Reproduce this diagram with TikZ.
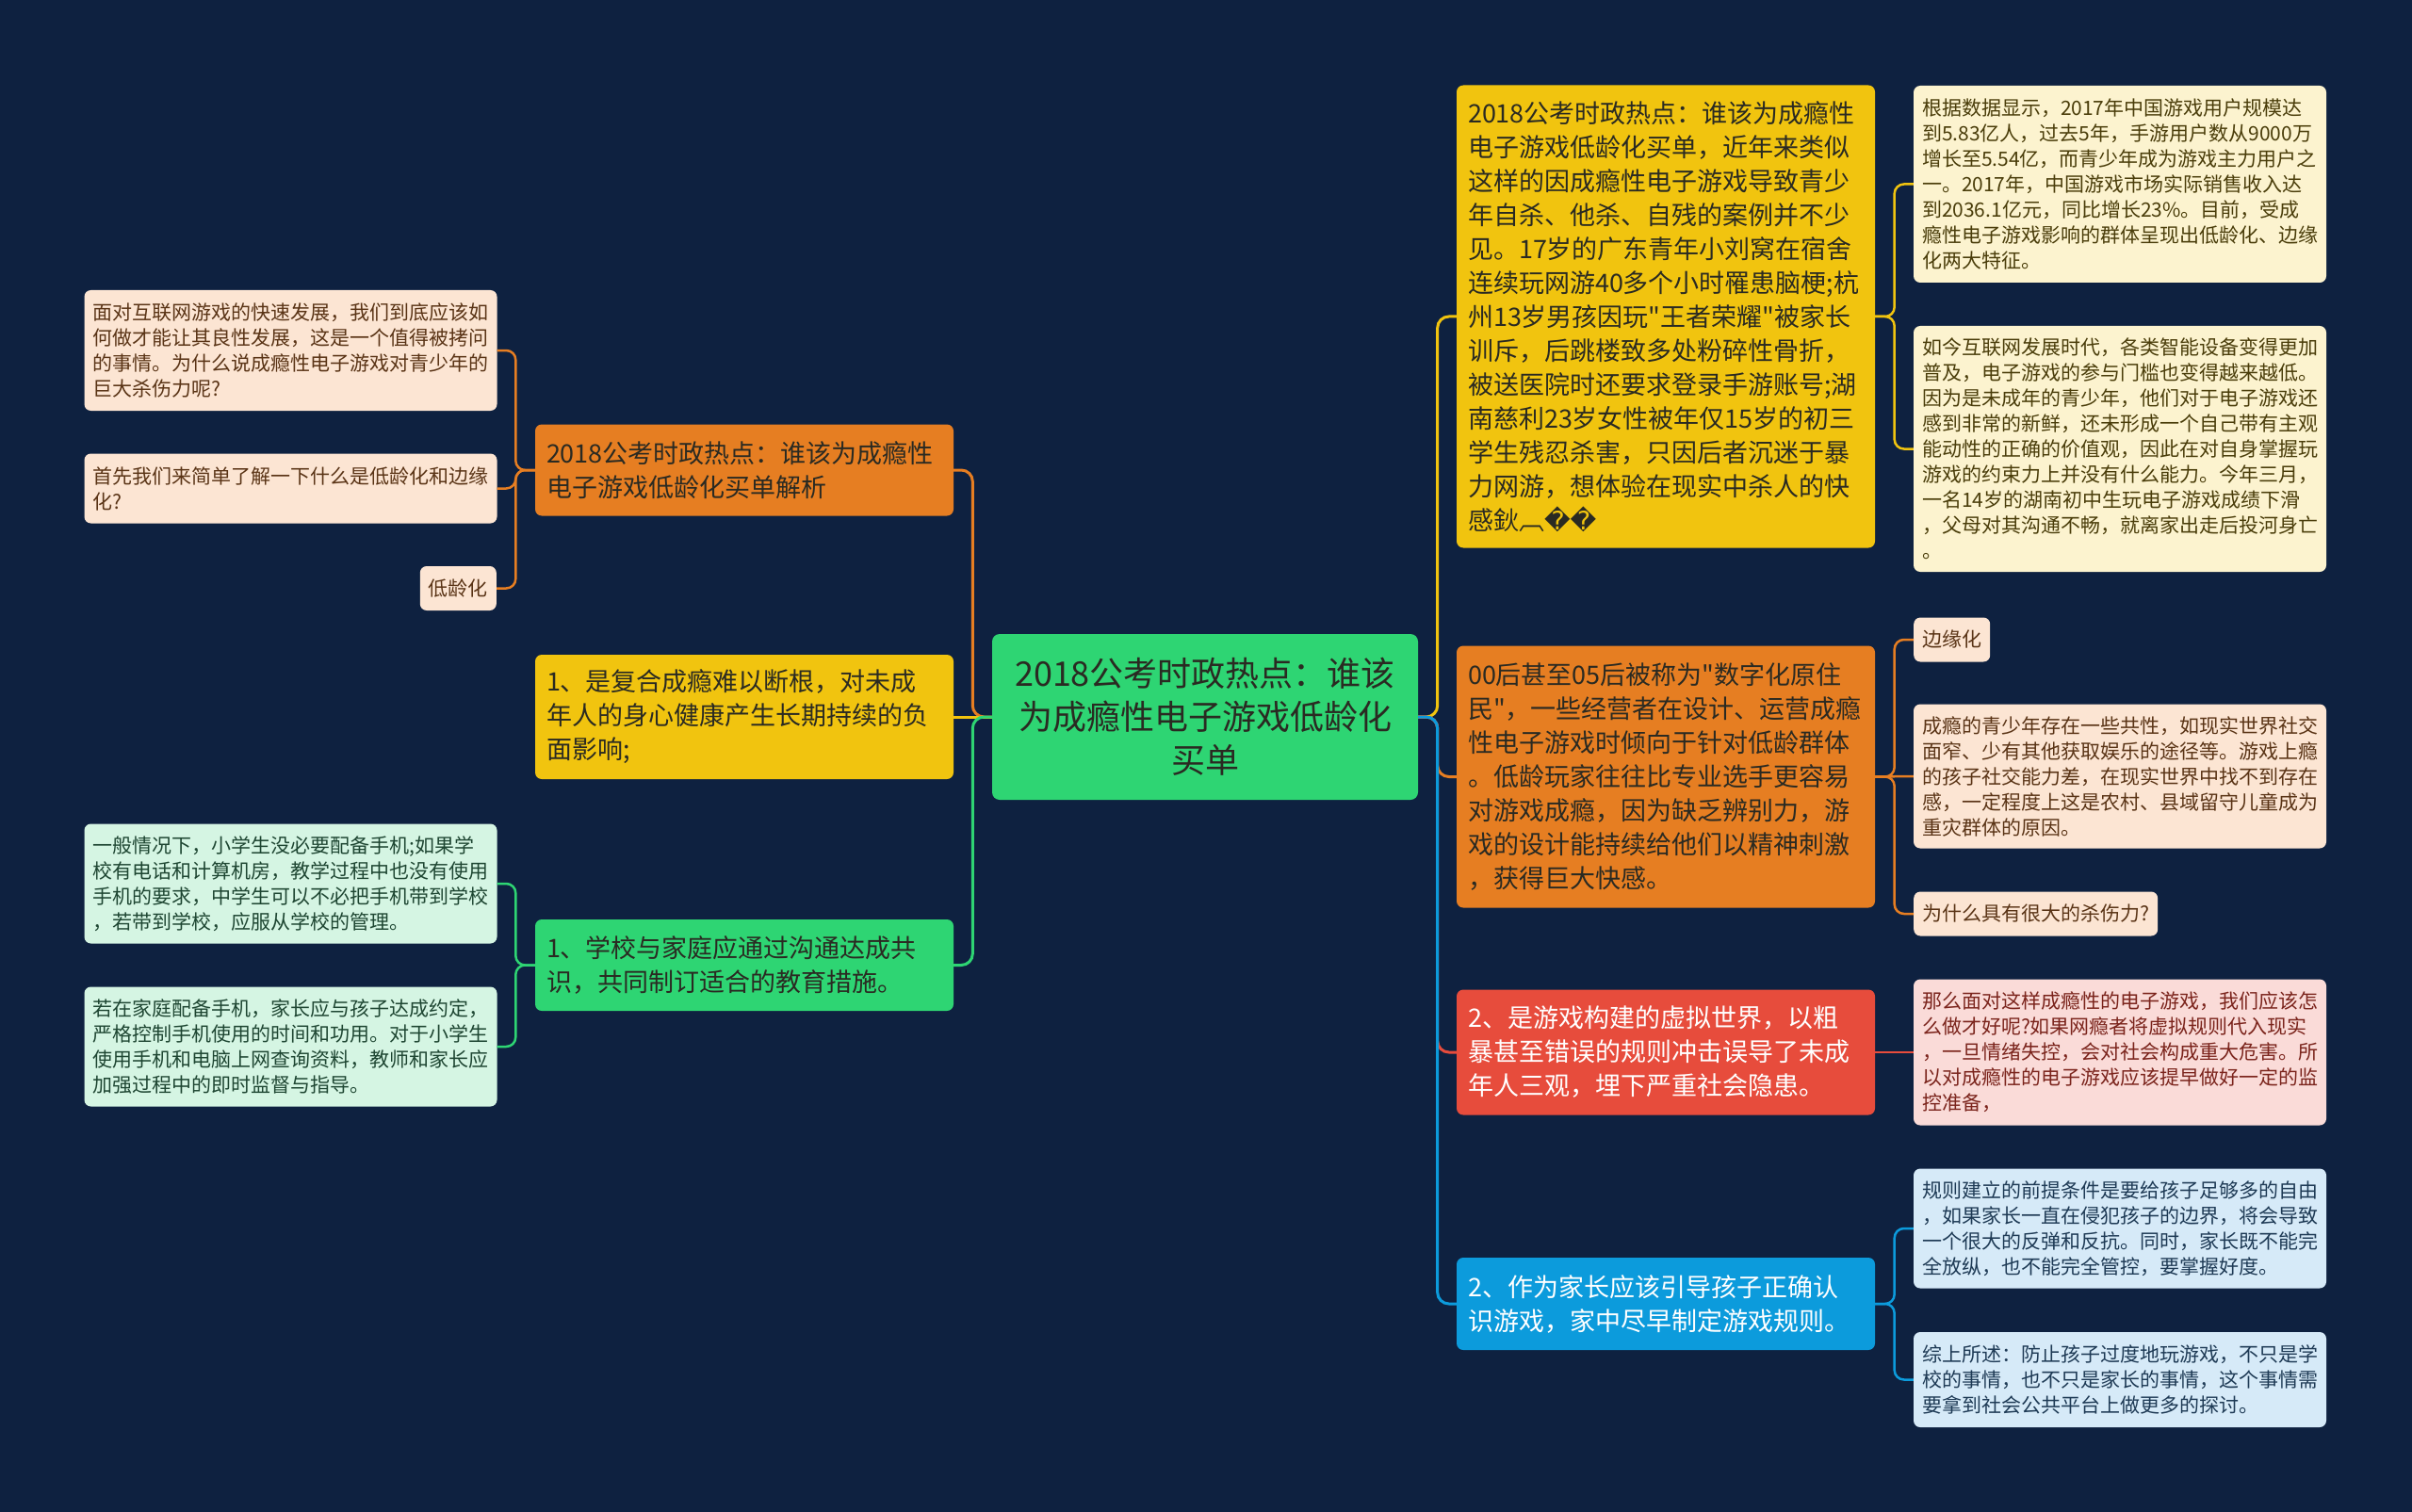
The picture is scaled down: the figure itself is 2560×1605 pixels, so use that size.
\documentclass[tikz,border=0pt]{standalone}
\usepackage{fontspec}
\setmainfont{Noto Sans CJK SC}
\newfontfamily\symfont{DejaVu Sans}
\usetikzlibrary{positioning,calc}

\definecolor{bgnavy}{HTML}{0E2140}
\definecolor{rootgreen}{HTML}{2ED573}
\definecolor{brorange}{HTML}{E67E22}
\definecolor{bryellow}{HTML}{F1C40F}
\definecolor{brred}{HTML}{E74C3C}
\definecolor{brblue}{HTML}{0C9BDC}
\definecolor{lforange}{HTML}{FCE5D3}
\definecolor{lfgreen}{HTML}{D5F5E3}
\definecolor{lfyellow}{HTML}{FCF3CF}
\definecolor{lfred}{HTML}{FADBD8}
\definecolor{lfblue}{HTML}{D6EAF8}
\definecolor{txdark}{HTML}{2A2A22}
\definecolor{txorange}{HTML}{5A3416}
\definecolor{txgreen}{HTML}{1E4632}
\definecolor{txyellow}{HTML}{4A3D0A}
\definecolor{txred}{HTML}{7B241C}
\definecolor{txblue}{HTML}{1E3A55}

\tikzset{
  rootbox/.style={rectangle, rounded corners=8pt, fill=rootgreen, text=txdark,
                  minimum width=452pt, minimum height=176pt, text width=420pt,
                  inner xsep=16pt, align=center, font=\fontsize{36}{46}\selectfont},
  mainbox/.style={rectangle, rounded corners=7pt, minimum width=444pt,
                  text width=420pt, inner xsep=12pt, align=left,
                  font=\fontsize{27}{36}\selectfont},
  leafbox/.style={rectangle, rounded corners=7pt, minimum width=438pt,
                  text width=420pt, inner xsep=9pt, align=left,
                  font=\fontsize{21}{27}\selectfont},
  tagbox/.style={rectangle, rounded corners=7pt, inner xsep=9pt,
                 minimum height=47pt, font=\fontsize{21}{27}\selectfont},
  link/.style={line width=3pt, rounded corners=12pt},
  twig/.style={line width=2.5pt, rounded corners=10pt},
  elbowL/.style={to path={-- ++(-20.5,0) |- (\tikztotarget)}},
  elbowR/.style={to path={-- ++(20.5,0) |- (\tikztotarget)}},
}

\begin{document}
\begin{tikzpicture}[x=1pt, y=-1pt]
    \useasboundingbox (0,0) rectangle (2560,1605);
    \fill[bgnavy] (0,0) rectangle (2560,1605);

    % Root
    \node[rootbox] (root) at (1279,761) {2018公考时政热点：谁该\\为成瘾性电子游戏低龄化\\买单};

    % Left branches
    \node[mainbox, fill=brorange, text=txdark, minimum height=97pt] (lowage) at (790,499) {2018公考时政热点：谁该为成瘾性\\电子游戏低龄化买单解析};
    \node[mainbox, fill=bryellow, text=txdark, minimum height=132pt] (habit) at (790,761) {1、是复合成瘾难以断根，对未成\\年人的身心健康产生长期持续的负\\面影响;};
    \node[mainbox, fill=rootgreen, text=txdark, minimum height=97pt] (school) at (790,1024.5) {1、学校与家庭应通过沟通达成共\\识，共同制订适合的教育措施。};

    % Left leaves
    \node[leafbox, fill=lforange, text=txorange, minimum height=128pt] (faceq) at (308.5,372) {面对互联网游戏的快速发展，我们到底应该如\\何做才能让其良性发展，这是一个值得被拷问\\的事情。为什么说成瘾性电子游戏对青少年的\\巨大杀伤力呢?};
    \node[leafbox, fill=lforange, text=txorange, minimum height=74pt] (firstq) at (308.5,518.5) {首先我们来简单了解一下什么是低龄化和边缘\\化?};
    \node[tagbox, fill=lforange, text=txorange, anchor=east] (lowtag) at (527,624.5) {低龄化};
    \node[leafbox, fill=lfgreen, text=txgreen, minimum height=127pt] (phone) at (308.5,938) {一般情况下，小学生没必要配备手机;如果学\\校有电话和计算机房，教学过程中也没有使用\\手机的要求，中学生可以不必把手机带到学校\\，若带到学校，应服从学校的管理。};
    \node[leafbox, fill=lfgreen, text=txgreen, minimum height=127pt] (home) at (308.5,1111) {若在家庭配备手机，家长应与孩子达成约定，\\严格控制手机使用的时间和功用。对于小学生\\使用手机和电脑上网查询资料，教师和家长应\\加强过程中的即时监督与指导。};

    % Right branches
    \node[mainbox, fill=bryellow, text=txdark, minimum height=491pt] (cases) at (1768,336) {2018公考时政热点：谁该为成瘾性\\电子游戏低龄化买单，近年来类似\\这样的因成瘾性电子游戏导致青少\\年自杀、他杀、自残的案例并不少\\见。17岁的广东青年小刘窝在宿舍\\连续玩网游40多个小时罹患脑梗;杭\\州13岁男孩因玩\textquotedbl 王者荣耀\textquotedbl 被家长\\训斥，后跳楼致多处粉碎性骨折，\\被送医院时还要求登录手游账号;湖\\南慈利23岁女性被年仅15岁的初三\\学生残忍杀害，只因后者沉迷于暴\\力网游，想体验在现实中杀人的快\\感鈥︹{\symfont\symbol{"FFFD}\symbol{"FFFD}}};
    \node[mainbox, fill=brorange, text=txdark, minimum height=278pt] (native) at (1768,824.5) {00后甚至05后被称为\textquotedbl 数字化原住\\民\textquotedbl ，一些经营者在设计、运营成瘾\\性电子游戏时倾向于针对低龄群体\\。低龄玩家往往比专业选手更容易\\对游戏成瘾，因为缺乏辨别力，游\\戏的设计能持续给他们以精神刺激\\，获得巨大快感。};
    \node[mainbox, fill=brred, text=white, minimum height=133pt] (virtual) at (1768,1117) {2、是游戏构建的虚拟世界，以粗\\暴甚至错误的规则冲击误导了未成\\年人三观，埋下严重社会隐患。};
    \node[mainbox, fill=brblue, text=white, minimum height=98pt] (parent) at (1768,1384) {2、作为家长应该引导孩子正确认\\识游戏，家中尽早制定游戏规则。};

    % Right leaves
    \node[leafbox, fill=lfyellow, text=txyellow, minimum height=209pt] (stats) at (2250,195.5) {根据数据显示，2017年中国游戏用户规模达\\到5.83亿人，过去5年，手游用户数从9000万\\增长至5.54亿，而青少年成为游戏主力用户之\\一。2017年，中国游戏市场实际销售收入达\\到2036.1亿元，同比增长23\%。目前，受成\\瘾性电子游戏影响的群体呈现出低龄化、边缘\\化两大特征。};
    \node[leafbox, fill=lfyellow, text=txyellow, minimum height=261pt] (era) at (2250,476.5) {如今互联网发展时代，各类智能设备变得更加\\普及，电子游戏的参与门槛也变得越来越低。\\因为是未成年的青少年，他们对于电子游戏还\\感到非常的新鲜，还未形成一个自己带有主观\\能动性的正确的价值观，因此在对自身掌握玩\\游戏的约束力上并没有什么能力。今年三月，\\一名14岁的湖南初中生玩电子游戏成绩下滑\\，父母对其沟通不畅，就离家出走后投河身亡\\。};
    \node[tagbox, fill=lforange, text=txorange, anchor=west] (edgetag) at (2031,679) {边缘化};
    \node[leafbox, fill=lforange, text=txorange, minimum height=153pt] (common) at (2250,824) {成瘾的青少年存在一些共性，如现实世界社交\\面窄、少有其他获取娱乐的途径等。游戏上瘾\\的孩子社交能力差，在现实世界中找不到存在\\感，一定程度上这是农村、县域留守儿童成为\\重灾群体的原因。};
    \node[tagbox, fill=lforange, text=txorange, anchor=west] (whyq) at (2031,970) {为什么具有很大的杀伤力?};
    \node[leafbox, fill=lfred, text=txred, minimum height=155pt] (guard) at (2250,1117) {那么面对这样成瘾性的电子游戏，我们应该怎\\么做才好呢?如果网瘾者将虚拟规则代入现实\\，一旦情绪失控，会对社会构成重大危害。所\\以对成瘾性的电子游戏应该提早做好一定的监\\控准备，};
    \node[leafbox, fill=lfblue, text=txblue, minimum height=127pt] (rules) at (2250,1304) {规则建立的前提条件是要给孩子足够多的自由\\，如果家长一直在侵犯孩子的边界，将会导致\\一个很大的反弹和反抗。同时，家长既不能完\\全放纵，也不能完全管控，要掌握好度。};
    \node[leafbox, fill=lfblue, text=txblue, minimum height=101pt] (summary) at (2250,1464.5) {综上所述：防止孩子过度地玩游戏，不只是学\\校的事情，也不只是家长的事情，这个事情需\\要拿到社会公共平台上做更多的探讨。};

    % Root to branches
    \draw[link, brorange, elbowL] (root.west) to (lowage.east);
    \draw[link, bryellow] (root.west) -- (habit.east);
    \draw[link, rootgreen, elbowL] (root.west) to (school.east);
    \draw[link, bryellow, elbowR] (root.east) to (cases.west);
    \draw[link, brorange, elbowR] (root.east) to (native.west);
    \draw[link, brred, elbowR] (root.east) to (virtual.west);
    \draw[link, brblue, elbowR] (root.east) to (parent.west);

    % Branches to leaves
    \draw[twig, brorange, elbowL] (lowage.west) to (faceq.east);
    \draw[twig, brorange, elbowL] (lowage.west) to (firstq.east);
    \draw[twig, brorange, elbowL] (lowage.west) to (lowtag.east);
    \draw[twig, rootgreen, elbowL] (school.west) to (phone.east);
    \draw[twig, rootgreen, elbowL] (school.west) to (home.east);
    \draw[twig, bryellow, elbowR] (cases.east) to (stats.west);
    \draw[twig, bryellow, elbowR] (cases.east) to (era.west);
    \draw[twig, brorange, elbowR] (native.east) to (edgetag.west);
    \draw[twig, brorange] (native.east) -- (common.west);
    \draw[twig, brorange, elbowR] (native.east) to (whyq.west);
    \draw[twig, brred] (virtual.east) -- (guard.west);
    \draw[twig, brblue, elbowR] (parent.east) to (rules.west);
    \draw[twig, brblue, elbowR] (parent.east) to (summary.west);
\end{tikzpicture}
\end{document}
